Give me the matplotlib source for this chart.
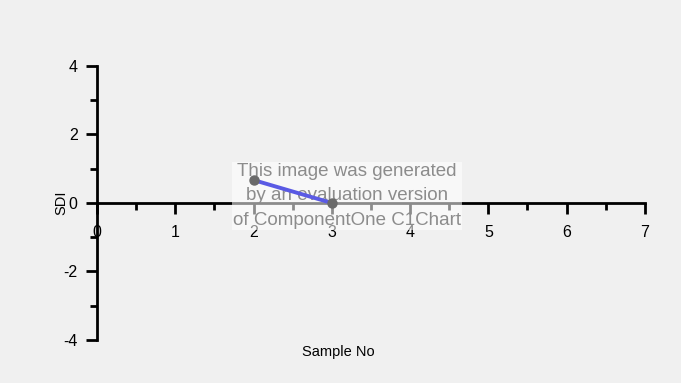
import matplotlib.pyplot as plt
from matplotlib.ticker import MultipleLocator

plt.rcParams['font.family'] = ['Liberation Sans', 'DejaVu Sans']
plt.rcParams['axes.unicode_minus'] = False

# data
sample_no = [2, 3]
sdi = [0.67, 0.0]

fig = plt.figure(figsize=(6.81, 3.83), dpi=100, facecolor='#f0f0f0')
ax = fig.add_axes([0.1424, 0.1123, 0.8046, 0.7154])
ax.set_facecolor('#f0f0f0')

ax.plot(sample_no, sdi, color='#5a5ae4', lw=2.8, zorder=3)
ax.plot(sample_no, sdi, 'o', color='#6a6a6a', ms=6.5, zorder=4)

ax.set_xlim(0, 7)
ax.set_ylim(-4, 4)
ax.spines['top'].set_visible(False)
ax.spines['right'].set_visible(False)
ax.spines['left'].set_position(('data', 0))
ax.spines['bottom'].set_position(('data', 0))
for s in ('left', 'bottom'):
    ax.spines[s].set_linewidth(2)
    ax.spines[s].set_color('black')

ax.xaxis.set_major_locator(MultipleLocator(1))
ax.xaxis.set_minor_locator(MultipleLocator(0.5))
ax.yaxis.set_major_locator(MultipleLocator(2))
ax.yaxis.set_minor_locator(MultipleLocator(1))
ax.tick_params(which='major', direction='out', length=8, width=2, labelsize=11.5, colors='black')
ax.tick_params(which='minor', direction='out', length=5, width=2)
ax.tick_params(axis='x', which='major', pad=8)
ax.tick_params(axis='y', which='major', pad=6)

fig.text(0.09, 0.47, 'SDI', rotation=90, ha='center', va='center', fontsize=10.5)
fig.text(0.497, 0.08, 'Sample No', ha='center', va='center', fontsize=10.5)

# evaluation watermark (box over the axis line, under the data line)
ax.text(0.456, 0.526, 'This image was generated\nby an evaluation version\nof ComponentOne C1Chart',
        transform=ax.transAxes, ha='center', va='center', fontsize=13.5, color='#8c8c8c',
        linespacing=1.55, zorder=2.8, clip_on=False,
        bbox=dict(facecolor='white', edgecolor='none', alpha=0.55, pad=1))

fig.savefig('out.png', dpi=100, facecolor=fig.get_facecolor())
